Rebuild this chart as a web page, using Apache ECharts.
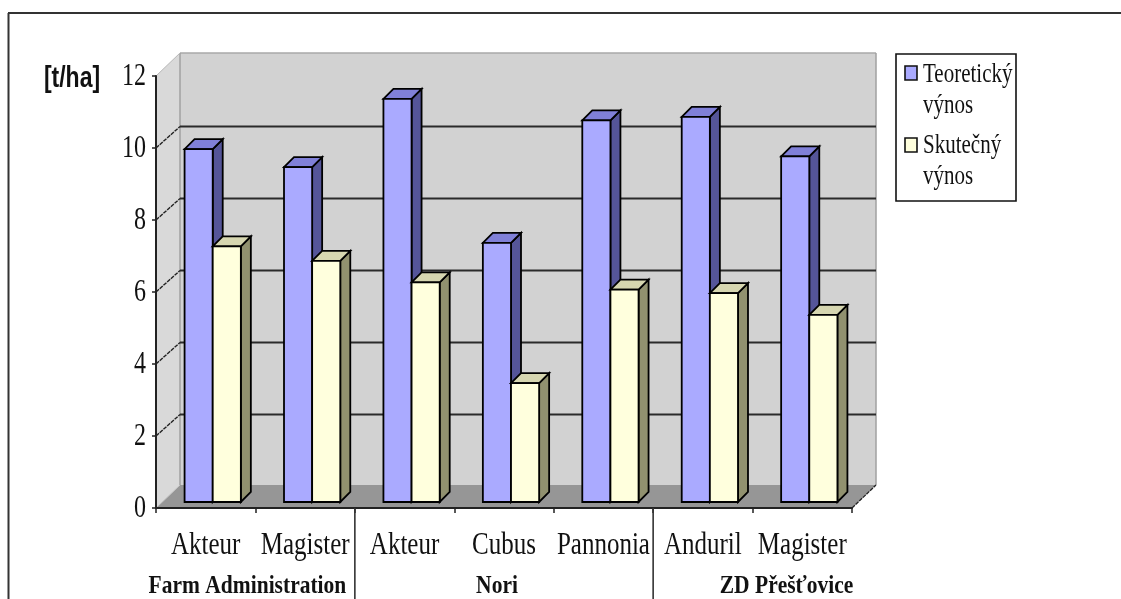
<!DOCTYPE html>
<html>
<head>
<meta charset="utf-8">
<title>Výnos odrůd</title>
<style>html,body{margin:0;padding:0;background:#fff}#chart{width:1121px;height:599px}</style>
<script src="https://cdn.jsdelivr.net/npm/echarts@6/dist/echarts.min.js"></script>
</head>
<body>
<div id="chart"></div>
<script>
// Yields per variety, t/ha
const varieties = ['Akteur', 'Magister', 'Akteur', 'Cubus', 'Pannonia', 'Anduril', 'Magister'];
const theoretical = [9.8, 9.3, 11.2, 7.2, 10.6, 10.7, 9.6];
const actual = [7.1, 6.7, 6.1, 3.3, 5.9, 5.8, 5.2];
const seriesNames = ['Teoretický výnos', 'Skutečný výnos'];
const farmNames = ['Farm Administration', 'Nori', 'ZD Přešťovice'];
const farmSizes = [2, 3, 2];
const yTicks = [0, 2, 4, 6, 8, 10, 12];
const unitLabel = '[t/ha]';

// Oblique projection of the chart box
const DEPTH_X = 24, DEPTH_Y = 23;
const BAR_LIFT = 6, BAR_SHIFT = 7, BAR_DEPTH = 10, BAR_SHARE = 0.283;
const SERIF = '"Liberation Serif", serif';
const INK = '#111';

const palette = [
  { front: '#aaaaff', side: '#555599', top: '#8080d8' },
  { front: '#ffffdd', side: '#91916f', top: '#d6d6b0' }
];

const poly = (points, fill, stroke, lineWidth) => ({
  type: 'polygon', shape: { points },
  style: { fill, stroke: stroke || 'none', lineWidth: lineWidth || 0 }
});
const seg = (a, b, stroke, lineWidth, extra) => ({
  type: 'line', shape: { x1: a[0], y1: a[1], x2: b[0], y2: b[1] },
  style: Object.assign({ stroke, lineWidth }, extra || {})
});
const label = (text, x, y, font, scaleY, align) => ({
  type: 'text', x, y, scaleY,
  style: { text, font, fill: INK, textAlign: align || 'center', textVerticalAlign: 'middle' }
});

// Floor, side wall and back wall
function renderWalls(params, api) {
  const r = params.coordSys;
  const fl = r.x, fr = r.x + r.width, ft = r.y, fb = r.y + r.height;
  return {
    type: 'group',
    children: [
      poly([[fl + DEPTH_X, ft - DEPTH_Y], [fr + DEPTH_X, ft - DEPTH_Y], [fr + DEPTH_X, fb - DEPTH_Y], [fl + DEPTH_X, fb - DEPTH_Y]], '#d2d2d2'),
      poly([[fl, ft], [fl + DEPTH_X, ft - DEPTH_Y], [fl + DEPTH_X, fb - DEPTH_Y], [fl, fb]], '#d9d9d9'),
      poly([[fl, fb], [fl + DEPTH_X, fb - DEPTH_Y], [fr + DEPTH_X, fb - DEPTH_Y], [fr, fb]], '#969696'),
      seg([fl + DEPTH_X, ft - DEPTH_Y], [fr + DEPTH_X, ft - DEPTH_Y], '#a8a8a8', 1.5),
      seg([fl + DEPTH_X, ft - DEPTH_Y], [fl + DEPTH_X, fb - DEPTH_Y], '#a0a0a0', 1.5),
      seg([fr + DEPTH_X, ft - DEPTH_Y], [fr + DEPTH_X, fb - DEPTH_Y], '#a0a0a0', 1.5),
      seg([fl, ft], [fl + DEPTH_X, ft - DEPTH_Y], '#b8b8b8', 1),
      seg([fl, fb], [fl + DEPTH_X, fb - DEPTH_Y], '#c4c4c4', 1),
      seg([fr, fb], [fr + DEPTH_X, fb - DEPTH_Y], '#222', 1.3, { lineDash: [4, 1] })
    ]
  };
}

// Gridlines run along the back wall and fold down the side wall to the axis
function renderGrid(params, api) {
  const v = api.value(0);
  if (v === 0 || v === 12) return null;
  const r = params.coordSys;
  const y = api.coord([0, v])[1];
  const by = y - DEPTH_Y + 1.5;
  return {
    type: 'group',
    children: [
      seg([r.x, y], [r.x + DEPTH_X, by], '#222', 1.4, { lineDash: [4, 1] }),
      seg([r.x + DEPTH_X, by], [r.x + r.width + DEPTH_X, by], '#2a2a2a', 1.8)
    ]
  };
}

// One bar: front, top and side faces
function barRenderer(index) {
  const c = palette[index];
  return function (params, api) {
    const cat = api.value(0);
    const top = api.coord([cat, api.value(1)]);
    const base = api.coord([cat, 0]);
    const w = api.size([1, 0])[0] * BAR_SHARE;
    const x0 = top[0] + BAR_SHIFT + (index === 0 ? -w : 0);
    const x1 = x0 + w;
    const y0 = top[1] - BAR_LIFT;
    const y1 = base[1] - BAR_LIFT;
    const d = BAR_DEPTH;
    const edge = '#000', width = 1.8;
    return {
      type: 'group',
      children: [
        poly([[x1, y0], [x1 + d, y0 - d], [x1 + d, y1 - d], [x1, y1]], c.side, edge, width),
        poly([[x0, y0], [x0 + d, y0 - d], [x1 + d, y0 - d], [x1, y0]], c.top, edge, width),
        poly([[x0, y0], [x1, y0], [x1, y1], [x0, y1]], c.front, edge, width)
      ]
    };
  };
}

function renderVarietyLabel(params, api) {
  const cat = api.value(0);
  const p = api.coord([cat, 0]);
  return label(varieties[cat], p[0], p[1] + 37, '25px ' + SERIF, 1.3);
}

function renderTickLabel(params, api) {
  const v = api.value(0);
  const p = api.coord([0, v]);
  return label(String(v), params.coordSys.x - 10, p[1], '24px ' + SERIF, 1.35, 'right');
}

// Farm names sit under their varieties, with dividers between the farms
function renderFarm(params, api) {
  const i = params.dataIndex;
  const r = params.coordSys;
  const band = api.size([1, 0])[0];
  const before = farmSizes.slice(0, i).reduce((a, b) => a + b, 0);
  const left = r.x + before * band;
  const right = left + farmSizes[i] * band;
  const shift = [-8, -7, 34][i];
  const children = [label(farmNames[i], (left + right) / 2 + shift, 586, 'bold 21.5px ' + SERIF, 1.2)];
  if (i < farmNames.length - 1) {
    children.push(seg([right, r.y + r.height], [right, 599], '#333', 1.6));
  }
  return { type: 'group', children };
}

const legendBox = { x: 896, y: 54, width: 120, height: 147 };
const legendGraphics = [
  { type: 'rect', shape: legendBox, style: { fill: '#fff', stroke: '#111', lineWidth: 1.6 } }
];
seriesNames.forEach((name, i) => {
  const top = 66 + i * 72;
  legendGraphics.push({
    type: 'rect', shape: { x: 905, y: top, width: 12, height: 14 },
    style: { fill: palette[i].front, stroke: '#111', lineWidth: 1.6 }
  });
  name.split(' ').forEach((word, j) => {
    legendGraphics.push({
      type: 'text', x: 923, y: top + 9 - i + j * 31, scaleY: 1.3,
      style: { text: word, font: '21px ' + SERIF, fill: INK, textVerticalAlign: 'middle' }
    });
  });
});

const chart = echarts.init(document.getElementById('chart'), null, { renderer: 'canvas' });

chart.setOption({
  animation: false,
  backgroundColor: '#fff',
  grid: { left: 156, right: 269, top: 76, bottom: 91, containLabel: false },
  xAxis: {
    type: 'category', data: varieties, z: 4,
    axisLine: { lineStyle: { color: '#222', width: 2 } },
    axisTick: { show: true, length: 5, lineStyle: { color: '#222', width: 1.5 } },
    axisLabel: { show: false }
  },
  yAxis: {
    type: 'value', min: 0, max: 12, interval: 2, z: 4,
    axisLine: { show: true, lineStyle: { color: '#222', width: 2 } },
    axisTick: { show: true, length: 4, lineStyle: { color: '#222', width: 1.5 } },
    axisLabel: { show: false },
    splitLine: { show: false }
  },
  graphic: [
    { type: 'line', shape: { x1: 8.5, y1: 13, x2: 8.5, y2: 599 }, style: { stroke: '#333', lineWidth: 2 } },
    { type: 'line', shape: { x1: 8, y1: 13, x2: 1121, y2: 13 }, style: { stroke: '#333', lineWidth: 2 } },
    {
      type: 'text', x: 72, y: 79, scaleY: 1.25,
      style: { text: unitLabel, font: 'bold 23px "Liberation Sans", sans-serif', fill: INK, textAlign: 'center', textVerticalAlign: 'middle' }
    }
  ].concat(legendGraphics),
  series: [
    { type: 'custom', name: 'walls', z: 1, silent: true, clip: false, renderItem: renderWalls, data: [[0]], encode: { x: -1, y: -1 } },
    { type: 'custom', name: 'grid', z: 1, silent: true, clip: false, renderItem: renderGrid, data: yTicks.map(v => [v]), encode: { x: -1, y: -1 } },
    { type: 'custom', name: seriesNames[0], z: 2, silent: true, clip: false, renderItem: barRenderer(0), data: theoretical.map((v, i) => [i, v]), encode: { x: 0, y: 1 } },
    { type: 'custom', name: seriesNames[1], z: 3, silent: true, clip: false, renderItem: barRenderer(1), data: actual.map((v, i) => [i, v]), encode: { x: 0, y: 1 } },
    { type: 'custom', name: 'varieties', z: 5, silent: true, clip: false, renderItem: renderVarietyLabel, data: varieties.map((n, i) => [i]), encode: { x: -1, y: -1 } },
    { type: 'custom', name: 'ticks', z: 5, silent: true, clip: false, renderItem: renderTickLabel, data: yTicks.map(v => [v]), encode: { x: -1, y: -1 } },
    { type: 'custom', name: 'farms', z: 5, silent: true, clip: false, renderItem: renderFarm, data: farmNames.map((n, i) => [i]), encode: { x: -1, y: -1 } }
  ]
});
</script>
</body>
</html>
